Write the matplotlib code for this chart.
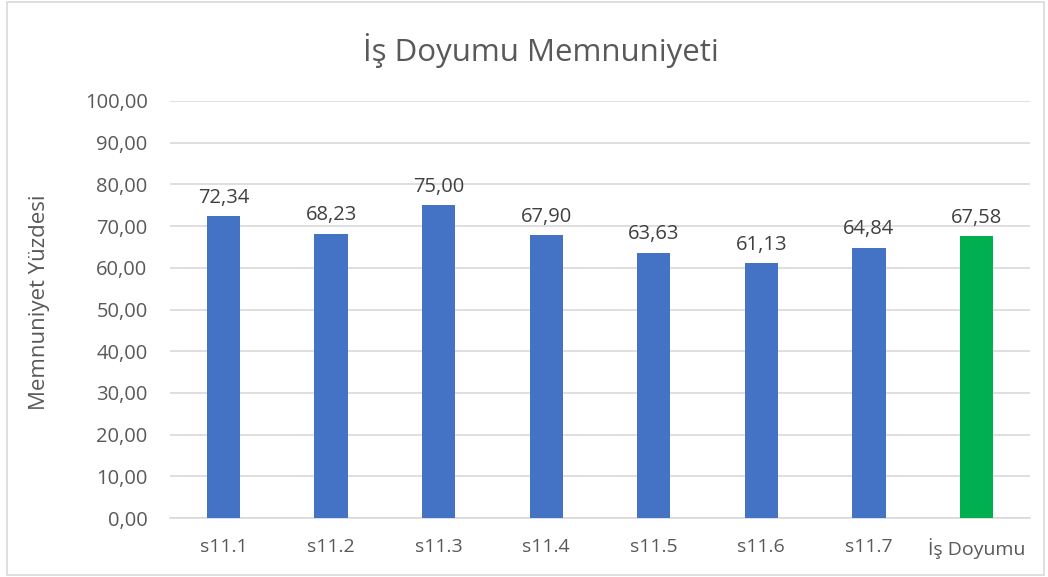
import matplotlib.pyplot as plt
from matplotlib.patches import Rectangle

# Veriler
kategoriler = ["s11.1", "s11.2", "s11.3", "s11.4", "s11.5", "s11.6", "s11.7", "İş Doyumu"]
degerler = [72.34, 68.23, 75.00, 67.90, 63.63, 61.13, 64.84, 67.58]
renkler = ["#4472C4"] * 7 + ["#00B050"]
y_ticks = [0, 10, 20, 30, 40, 50, 60, 70, 80, 90, 100]

plt.rcParams["font.family"] = ["Open Sans", "DejaVu Sans"]
gri = "#595959"

fig = plt.figure(figsize=(10.48, 5.77), dpi=100)
ax = fig.add_axes([0.162, 0.102, 0.821, 0.723])

x = range(len(kategoriler))
ax.bar(x, degerler, width=0.31, color=renkler, zorder=3)

for xi, v in zip(x, degerler):
    ax.text(xi, v + 2.0, f"{v:.2f}".replace(".", ","), ha="center", va="bottom",
            fontsize=14.5, color="#404040")

ax.set_xlim(-0.5, len(kategoriler) - 0.5)
ax.set_ylim(0, 100)
ax.set_yticks(y_ticks)
ax.set_yticklabels([f"{t:.2f}".replace(".", ",") for t in y_ticks], fontsize=14.5, color=gri)
ax.set_xticks(list(x))
ax.set_xticklabels(kategoriler, fontsize=14, color=gri)
ax.tick_params(axis="y", length=0, pad=16)
ax.tick_params(axis="x", length=0, pad=14)

ax.grid(axis="y", color="#D9D9D9", linewidth=1.2, zorder=0)
for s in ["top", "right", "left"]:
    ax.spines[s].set_visible(False)
ax.spines["bottom"].set_color("#D9D9D9")
ax.spines["bottom"].set_linewidth(1.2)

fig.text(0.038, 0.477, "Memnuniyet Yüzdesi", rotation=90, ha="center", va="center",
         fontsize=16, color=gri)
fig.text(0.516, 0.913, "İş Doyumu Memnuniyeti", ha="center", va="center",
         fontsize=22.5, color=gri)

# çerçeve
fig.patches.append(Rectangle((0.0065, 0.003), 0.99, 0.994, transform=fig.transFigure,
                             fill=False, edgecolor="#D9D9D9", linewidth=1.2))

fig.savefig("out.png", dpi=100)
